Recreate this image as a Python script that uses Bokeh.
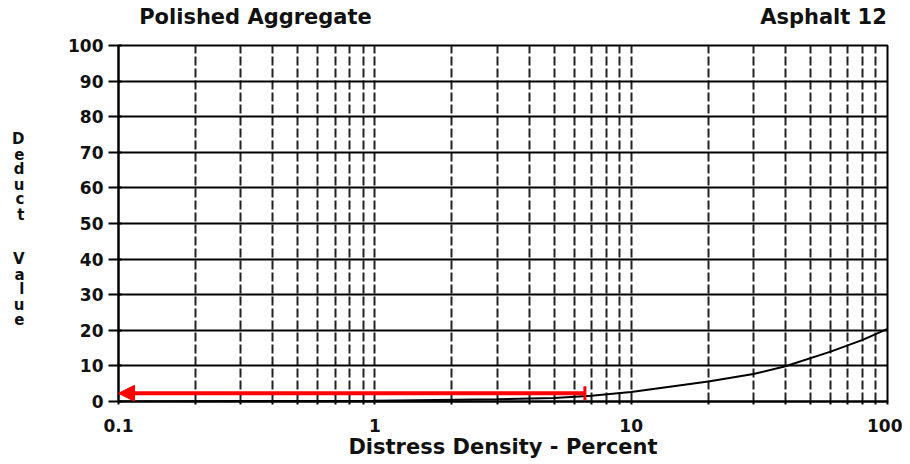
from bokeh.plotting import figure
from bokeh.models import FixedTicker, Arrow, NormalHead, TeeHead, LogAxis, LinearAxis
from bokeh.embed import file_html
from bokeh.resources import INLINE

# ---- data ----
density = [0.1, 1.0, 3.0, 5.0, 7.0, 10.0, 20.0, 30.0, 40.0, 60.0, 80.0, 100.0]
deduct = [0.0, 0.2, 0.6, 1.0, 1.6, 2.7, 5.6, 7.7, 9.9, 14.0, 17.3, 20.4]

x_major = [0.1, 1, 10, 100]
x_major_labels = ["0.1", "1", "10", "100"]
x_minor = [0.2, 0.3, 0.4, 0.5, 0.6, 0.7, 0.8, 0.9,
           2, 3, 4, 5, 6, 7, 8, 9,
           20, 30, 40, 50, 60, 70, 80, 90]
y_ticks = [0, 10, 20, 30, 40, 50, 60, 70, 80, 90, 100]

arrow_x = [6.6, 0.1]   # tee end, head end
arrow_y = [2.3, 2.3]

title_left = "Polished Aggregate"
title_right = "Asphalt 12"
x_title = "Distress Density - Percent"
y_title = "Deduct Value"

FONT = "DejaVu Sans"
INK = "#111111"

# ---- layout helpers (page pixels -> data) ----
FL, FT, FR, FB = 118, 45, 887, 401

def px_to_x(px):
    return 10 ** ((px - FL) / ((FR - FL) / 3.0) - 1)

def py_to_y(py):
    return round((FB - py) / ((FB - FT) / 100.0), 3)

# ---- figure ----
W, H = 902, 464
p = figure(width=W, height=H, x_axis_type="log", x_range=(0.1, 100), y_range=(0, 100),
           output_backend="svg", toolbar_location=None,
           min_border_left=FL, min_border_right=W - FR, min_border_top=FT,
           min_border_bottom=H - FB)
p.background_fill_color = "white"
p.border_fill_color = "white"
p.outline_line_color = "black"
p.outline_line_width = 2

# x axis
p.xaxis.ticker = FixedTicker(ticks=x_major, minor_ticks=x_minor)
p.xaxis.major_label_overrides = {v: s for v, s in zip(x_major, x_major_labels)}
p.xaxis.axis_line_color = "black"
p.xaxis.axis_line_width = 2
p.xaxis.major_tick_in = 0
p.xaxis.major_tick_out = 3
p.xaxis.minor_tick_in = 0
p.xaxis.minor_tick_out = 3
p.xaxis.major_tick_line_width = 2
p.xaxis.minor_tick_line_width = 2
p.xaxis.major_label_standoff = 14
p.xaxis.major_label_text_font = FONT
p.xaxis.major_label_text_font_style = "bold"
p.xaxis.major_label_text_font_size = "17px"
p.xaxis.major_label_text_color = INK
p.xaxis.axis_label = x_title
p.xaxis.axis_label_standoff = 0
p.xaxis.axis_label_text_font = FONT
p.xaxis.axis_label_text_font_style = "bold"
p.xaxis.axis_label_text_font_size = "21px"
p.xaxis.axis_label_text_color = INK

# y axis
p.yaxis.ticker = FixedTicker(ticks=y_ticks)
p.yaxis.axis_line_color = "black"
p.yaxis.axis_line_width = 2
p.yaxis.major_tick_in = 3
p.yaxis.major_tick_out = 10
p.yaxis.major_tick_line_width = 2
p.yaxis.minor_tick_line_color = None
p.yaxis.major_label_standoff = 5
p.yaxis.major_label_text_font = FONT
p.yaxis.major_label_text_font_style = "bold"
p.yaxis.major_label_text_font_size = "17px"
p.yaxis.major_label_text_color = INK

# grids
p.ygrid.grid_line_color = "black"
p.ygrid.grid_line_width = 2
p.ygrid.grid_line_alpha = 1.0
p.xgrid.grid_line_color = "#222222"
p.xgrid.grid_line_width = 2
p.xgrid.grid_line_dash = "9 3"
p.xgrid.minor_grid_line_color = "#222222"
p.xgrid.minor_grid_line_width = 2
p.xgrid.minor_grid_line_dash = "9 3"

# curve
p.line(density, deduct, line_color="black", line_width=2)

# red arrow
p.add_layout(Arrow(x_start=arrow_x[0], y_start=arrow_y[0], x_end=arrow_x[1], y_end=arrow_y[1],
                   line_color="#ff0000", line_width=4,
                   start=TeeHead(size=14, line_color="#ff0000", line_width=3),
                   end=NormalHead(size=16, fill_color="#ff0000", line_color="#ff0000")))

# titles drawn as labels of an extra (invisible) axis above the frame
t_pos = [px_to_x(255), px_to_x(823)]
top = LogAxis(ticker=FixedTicker(ticks=t_pos, minor_ticks=[]),
              major_label_overrides={t_pos[0]: title_left, t_pos[1]: title_right})
top.axis_line_color = None
top.major_tick_line_color = None
top.minor_tick_line_color = None
top.major_label_standoff = 11
top.major_label_text_font = FONT
top.major_label_text_font_style = "bold"
top.major_label_text_font_size = "21px"
top.major_label_text_color = INK
p.add_layout(top, "above")

# stacked upright letters for the y title, via an extra invisible left axis
ys = [138, 154, 169, 184, 199, 214, None, 259, 274, 289, 304, 320]
l_pos, l_txt = [], {}
for ch, yy in zip(y_title, ys):
    if ch == " " or yy is None:
        continue
    v = py_to_y(yy)
    l_pos.append(v)
    l_txt[v] = ch
left2 = LinearAxis(ticker=FixedTicker(ticks=l_pos, minor_ticks=[]), major_label_overrides=l_txt)
left2.axis_line_color = None
left2.major_tick_line_color = None
left2.minor_tick_line_color = None
left2.major_label_standoff = 35
left2.major_label_text_font = FONT
left2.major_label_text_font_style = "bold"
left2.major_label_text_font_size = "15px"
left2.major_label_text_color = INK
p.add_layout(left2, "left")

open("out.html", "w").write(file_html(p, INLINE))
